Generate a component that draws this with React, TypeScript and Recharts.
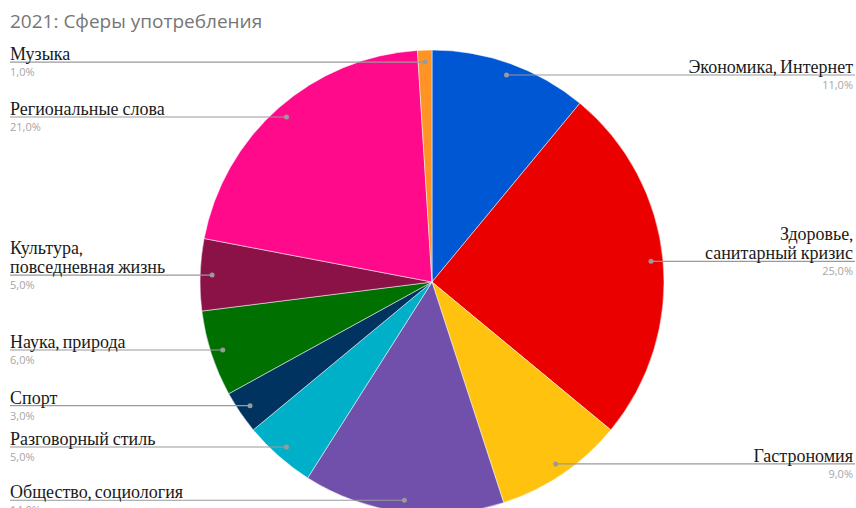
import React from "react";
import { PieChart, Pie, Cell } from "recharts";

const categories = [
  "Экономика, Интернет",
  "Здоровье,\nсанитарный кризис",
  "Гастрономия",
  "Общество, социология",
  "Разговорный стиль",
  "Спорт",
  "Наука, природа",
  "Культура,\nповседневная жизнь",
  "Региональные слова",
  "Музыка",
];
const values = [11, 25, 9, 14, 5, 3, 6, 5, 21, 1];
const percentLabels = ["11,0%", "25,0%", "9,0%", "14,0%", "5,0%", "3,0%", "6,0%", "5,0%", "21,0%", "1,0%"];
const colors = [
  "#0057d4",
  "#eb0000",
  "#ffc20e",
  "#7050aa",
  "#00b0c8",
  "#00335f",
  "#007000",
  "#8a1247",
  "#ff0a8a",
  "#ff9424",
];

const data = categories.map((name, i) => ({ name, value: values[i], pct: percentLabels[i] }));

const RADIAN = Math.PI / 180;

const renderLabel = (props: any) => {
  const { cx, cy, midAngle, outerRadius, index } = props;
  const r = outerRadius - 12;
  const x = cx + r * Math.cos(-midAngle * RADIAN);
  const y = cy + r * Math.sin(-midAngle * RADIAN);
  const left = x < cx;
  const edgeX = left ? 10 : 855;
  const textX = left ? 10 : 853;
  const anchor = left ? "start" : "end";
  const lines = categories[index].split("\n");
  const lh = 19;
  return (
    <g key={`lbl-${index}`}>
      <line x1={x} y1={y} x2={edgeX} y2={y} stroke="#9a9a9a" strokeWidth={1.2} />
      <circle cx={x} cy={y} r={2.5} fill="#9a9a9a" />
      {lines.map((ln, j) => (
        <text
          key={j}
          x={textX}
          y={y - 2 - (lines.length - 1 - j) * lh}
          textAnchor={anchor}
          style={{ fontFamily: "Cambria, 'Liberation Serif', serif", fontSize: 18 }}
          fill="#1a1a1a"
        >
          {ln}
        </text>
      ))}
      <text
        x={textX}
        y={y + 14}
        textAnchor={anchor}
        style={{ fontFamily: "'Open Sans', sans-serif", fontSize: 11 }}
        fill="#a6a6a6"
      >
        {percentLabels[index]}
      </text>
    </g>
  );
};

export default function App() {
  return (
    <div style={{ position: "fixed", left: 0, top: 0, width: 856, height: 508, background: "#fff" }}>
      <PieChart width={856} height={508} margin={{ top: 0, right: 0, bottom: 0, left: 0 }}>
        <text x={10} y={28} style={{ fontFamily: "'Open Sans', sans-serif", fontSize: 19 }} fill="#767676">
          2021: Сферы употребления
        </text>
        <Pie
          data={data}
          dataKey="value"
          nameKey="name"
          cx={432}
          cy={282}
          outerRadius={232}
          startAngle={90}
          endAngle={-270}
          isAnimationActive={false}
          label={renderLabel}
          labelLine={false}
          stroke="#ffffff"
          strokeWidth={0.5}
        >
          {data.map((d, i) => (
            <Cell key={i} fill={colors[i]} />
          ))}
        </Pie>
      </PieChart>
    </div>
  );
}
